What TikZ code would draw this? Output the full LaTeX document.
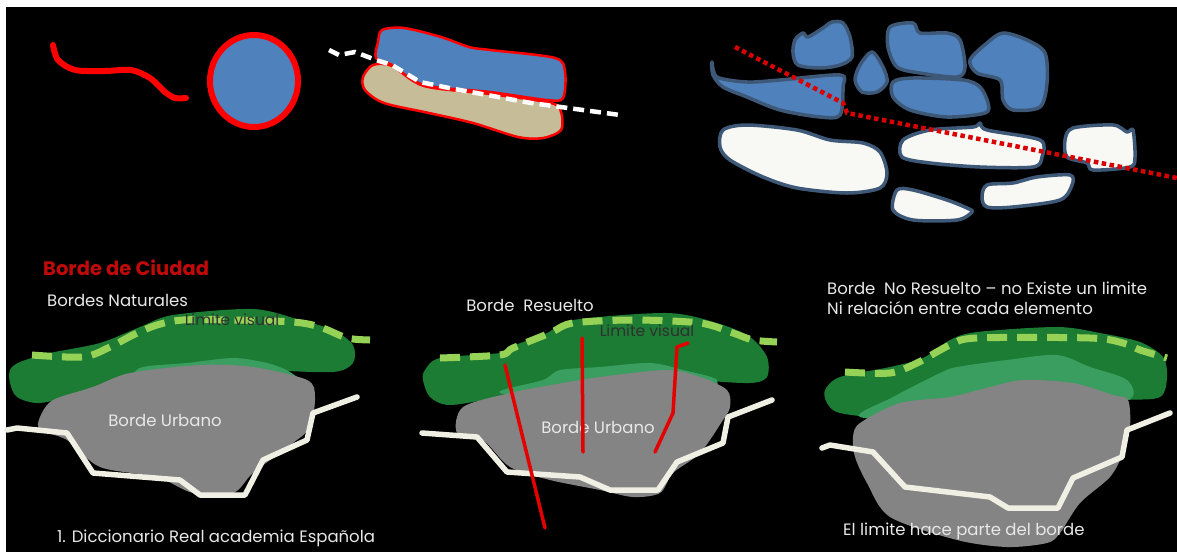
\documentclass[tikz,border=0pt]{standalone}
\usepackage{fontspec}
\setmainfont{Poppins}
\usepackage{tikz}
\usetikzlibrary{positioning}

\definecolor{lakeblue}{RGB}{79,129,189}
\definecolor{rimblue}{RGB}{62,88,120}
\definecolor{snow}{RGB}{248,248,244}
\definecolor{sand}{RGB}{198,188,152}
\definecolor{darkgreen}{RGB}{28,124,52}
\definecolor{midgreen}{RGB}{58,158,96}
\definecolor{limegreen}{RGB}{150,210,86}
\definecolor{citygray}{RGB}{132,132,132}
\definecolor{roadwhite}{RGB}{240,239,228}
\definecolor{titlered}{RGB}{192,10,10}
\definecolor{lightlabel}{RGB}{232,232,232}
\definecolor{darklabel}{RGB}{48,48,48}

\begin{document}
\begin{tikzpicture}[x=1pt, y=-1pt,
        redstroke/.style={draw=red, line width=6pt, line cap=round, line join=round},
        waterblob/.style={fill=lakeblue, draw=rimblue, line width=3.5pt, line join=round},
        iceblob/.style={fill=snow, draw=rimblue, line width=3.5pt, line join=round},
        greenedge/.style={draw=limegreen, line width=7pt, dash pattern=on 20pt off 10pt},
        road/.style={draw=roadwhite, line width=5.5pt, line join=round, line cap=round},
        cutline/.style={draw=red!90!black, line width=3.5pt, line cap=round, line join=round},
        label/.style={inner sep=0pt, text=lightlabel, font=\fontsize{16.5}{19.5}\selectfont},
        darklabel/.style={inner sep=0pt, text=darklabel, font=\fontsize{15.5}{18}\selectfont}
    ]
    \useasboundingbox (0,0) rectangle (1177,552);
    \fill[white] (0,0) rectangle (1177,552);
    \fill[black] (6,7) rectangle (1177,552);

    \draw[redstroke] plot[smooth] coordinates {(53,45) (58,60) (75,70) (105,71) (131,70) (150,78) (165,92) (175,98) (186,98)};
    \draw[redstroke, fill=lakeblue] (254,81) ellipse (44 and 46);
    \draw[fill=sand, draw=red, line width=2.5pt] plot[smooth cycle, tension=0.5] coordinates {(373,65) (363,77) (365,90) (384,103) (429,113) (473,123) (518,137) (543,138) (561,130) (561,112) (551,103) (490,94) (424,86) (392,66)};
    \draw[fill=lakeblue, draw=red, line width=2.5pt] plot[smooth cycle, tension=0.5] coordinates {(382,30) (404,28) (441,37) (469,47) (490,50) (555,58) (565,72) (563,98) (547,100) (490,92) (424,85) (392,65) (376,58) (378,42)};
    \draw[white, line width=4.5pt, dash pattern=on 11pt off 6pt] (329,50) -- (339,55) -- (355,52) -- (376,60) -- (392,65) -- (420,82) -- (449,88) -- (531,103) -- (620,115);

    \draw[waterblob] plot[smooth cycle, tension=0.5] coordinates {(712,62) (717,77) (747,82) (780,80) (840,75) (843,87) (840,115) (820,117) (780,110) (747,97) (723,87) (713,75)};
    \draw[waterblob] plot[smooth cycle, tension=0.5] coordinates {(795,40) (803,33) (808,37) (823,28) (832,22) (843,23) (850,37) (852,57) (840,65) (820,68) (798,65) (793,53)};
    \draw[waterblob] plot[smooth cycle, tension=0.5] coordinates {(872,52) (883,67) (887,82) (877,92) (862,92) (855,80) (860,65)};
    \draw[waterblob] plot[smooth cycle, tension=0.5] coordinates {(890,27) (913,23) (920,33) (947,33) (960,40) (965,67) (957,77) (920,73) (897,67) (888,47)};
    \draw[waterblob] plot[smooth cycle, tension=0.5] coordinates {(893,82) (913,78) (963,80) (980,87) (988,103) (985,113) (947,117) (910,110) (893,97)};
    \draw[waterblob] plot[smooth cycle, tension=0.5] coordinates {(970,60) (987,43) (1003,33) (1027,40) (1045,53) (1047,83) (1040,107) (1013,110) (1003,100) (1000,80) (977,73)};
    \draw[iceblob] plot[smooth cycle, tension=0.5] coordinates {(723,130) (747,125) (797,130) (830,140) (863,143) (880,152) (887,173) (880,188) (847,193) (797,188) (763,177) (730,160) (720,147)};
    \draw[iceblob] plot[smooth cycle, tension=0.5] coordinates {(903,140) (930,130) (973,127) (980,123) (987,130) (1040,140) (1042,157) (1033,167) (980,167) (930,163) (902,157)};
    \draw[iceblob] plot[smooth cycle, tension=0.5] coordinates {(1073,128) (1113,125) (1127,132) (1133,130) (1135,157) (1130,167) (1093,170) (1087,163) (1067,157) (1065,140)};
    \draw[iceblob] plot[smooth cycle, tension=0.5] coordinates {(897,190) (913,190) (947,200) (967,208) (972,212) (957,220) (913,220) (893,210)};
    \draw[iceblob] plot[smooth cycle, tension=0.5] coordinates {(987,185) (1013,183) (1037,177) (1070,175) (1072,185) (1060,200) (1013,207) (987,207) (982,197)};
    \draw[red!85!black, line width=4.5pt, dash pattern=on 4.5pt off 3.5pt] (735,47) -- (843,103) -- (847,113) -- (1177,178);

    \node[inner sep=0pt, anchor=west, text=titlered, font=\bfseries\fontsize{19.5}{23}\selectfont] (title) at (43,268) {Borde de Ciudad};
    \node[label, anchor=west] (natural) at (47,300) {Bordes Naturales};
    \fill[darkgreen] plot[smooth cycle, tension=0.5] coordinates {(10,370) (20,362) (50,353) (100,343) (140,327) (173,315) (253,309) (300,320) (333,330) (353,345) (353,363) (333,372) (267,370) (200,367) (133,380) (83,393) (40,403) (17,397) (10,383)};
    \fill[midgreen] plot[smooth cycle, tension=0.5] coordinates {(83,392) (127,377) (143,367) (187,363) (233,358) (267,363) (290,372) (300,385) (250,395) (150,400)};
    \fill[citygray] plot[smooth cycle, tension=0.5] coordinates {(40,417) (53,400) (93,387) (130,373) (200,365) (253,367) (307,380) (315,397) (310,427) (293,443) (253,473) (233,493) (193,493) (157,477) (100,467) (67,440) (40,430)};
    \draw[greenedge] plot[smooth] coordinates {(32,355) (83,357) (110,347) (133,335) (157,325) (183,320) (233,320) (293,322) (320,327) (347,338) (370,340)};
    \node[darklabel] (visualA) at (232,320) {Limite visual};
    \draw[road] (7,430) -- (17,428) -- (67,433) -- (93,473) -- (180,480) -- (200,495) -- (245,495) -- (263,460) -- (307,440) -- (313,413) -- (357,397);
    \node[label] (urbanA) at (165,420) {Borde Urbano};
    \node[label, anchor=west] (source) at (57,538) {1. Diccionario Real academia Española};

    \node[label] (solved) at (530,305) {Borde\ \ Resuelto};
    \fill[darkgreen] plot[smooth cycle, tension=0.5] coordinates {(423,380) (425,370) (440,358) (500,353) (510,347) (547,333) (573,320) (667,313) (717,323) (750,337) (767,357) (767,377) (750,383) (700,380) (633,372) (567,380) (533,390) (500,397) (450,405) (430,397)};
    \fill[midgreen] plot[smooth cycle, tension=0.5] coordinates {(500,393) (543,380) (560,370) (600,367) (650,363) (683,370) (717,380) (700,395) (600,400)};
    \fill[citygray] plot[smooth cycle, tension=0.5] coordinates {(457,433) (463,407) (510,393) (540,387) (600,377) (667,370) (700,377) (727,390) (730,407) (723,420) (700,453) (673,473) (660,493) (633,497) (600,490) (550,480) (510,467) (483,440)};
    \draw[greenedge] plot[smooth] coordinates {(440,358) (500,355) (513,348) (550,333) (573,323) (633,320) (700,323) (733,333) (753,340) (777,342)};
    \node[darklabel] (visualB) at (647,331) {Limite visual};
    \draw[road] (422,433) -- (477,437) -- (507,472) -- (580,477) -- (610,490) -- (658,490) -- (677,462) -- (723,443) -- (728,417) -- (772,400);
    \node[label] (urbanB) at (598,427) {Borde Urbano};
    \draw[cutline] (505,365) -- (545,528);
    \draw[cutline] (582,338) -- (583,452);
    \draw[cutline] (688,343) -- (677,347) -- (673,413) -- (655,452);

    \node[label, anchor=west] (unsolved) at (827,288) {Borde\ \ No Resuelto – no Existe un limite};
    \node[label, anchor=west] (relation) at (827,308) {Ni relación entre cada elemento};
    \fill[darkgreen] plot[smooth cycle, tension=0.5] coordinates {(827,403) (825,390) (840,377) (890,367) (923,358) (950,340) (977,332) (1057,327) (1100,333) (1140,342) (1163,357) (1167,377) (1160,397) (1123,400) (1023,403) (957,413) (890,418) (840,413)};
    \fill[midgreen] plot[smooth cycle, tension=0.5] coordinates {(860,417) (893,397) (940,373) (957,367) (1007,360) (1057,355) (1090,367) (1127,380) (1128,400) (1050,410) (950,420)};
    \fill[citygray] plot[smooth cycle, tension=0.5] coordinates {(853,437) (860,423) (900,403) (950,397) (990,387) (1023,380) (1073,383) (1113,395) (1128,400) (1130,427) (1123,453) (1110,477) (1080,503) (1060,533) (1047,543) (1007,547) (957,540) (890,517) (867,483) (855,457)};
    \draw[greenedge] plot[smooth] coordinates {(845,372) (890,373) (917,363) (950,345) (977,338) (1090,338) (1123,343) (1140,350) (1167,358)};
    \draw[road] (822,448) -- (830,445) -- (873,452) -- (905,487) -- (990,497) -- (1008,508) -- (1058,508) -- (1073,478) -- (1122,457) -- (1127,430) -- (1170,413);
    \node[label, anchor=west] (partof) at (843,531) {El limite hace parte del borde};
\end{tikzpicture}
\end{document}
